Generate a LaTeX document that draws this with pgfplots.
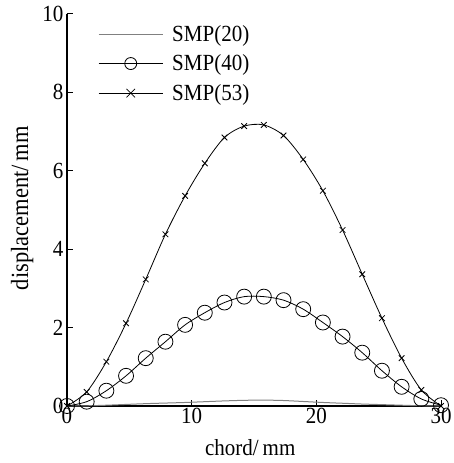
\documentclass[border=0pt]{standalone}
\usepackage{fontspec}
\setmainfont{Liberation Serif}
\usepackage{pgfplots}
\pgfplotsset{compat=1.18}
\newcommand{\vs}[1]{\scalebox{1}[1.1]{#1}}
\begin{document}
\begin{tikzpicture}
\useasboundingbox (-67pt,-57pt) rectangle (386pt,406pt);
\begin{axis}[
  scale only axis, width=374pt, height=392pt,
  xmin=0, xmax=30, ymin=0, ymax=10,
  axis x line*=bottom, axis y line*=left,
  axis line style={line width=1.6pt},
  xtick={0,10,20,30}, ytick={0,2,4,6,8,10},
  tick align=inside, major tick length=6pt,
  tick style={black, line width=1pt},
  /pgf/number format/assume math mode=true,
  font=\fontsize{21}{25}\selectfont,
  ticklabel style={font=\fontsize{21}{25}\selectfont},
  xticklabel={\vs{\pgfmathprintnumber{\tick}}},
  yticklabel={\vs{\pgfmathprintnumber{\tick}}},
  xticklabel style={yshift=1pt},
  xlabel={\vs{chord/\hspace{4pt}mm}}, ylabel={\fontsize{22.5}{26}\selectfont\vs{displacement/\hspace{4pt}mm}},
  xlabel style={at={(axis description cs:0.49,-0.107)}, anchor=center},
  ylabel style={at={(axis description cs:-0.12,0.505)}, anchor=center},
  legend style={draw=none, fill=none, at={(axis description cs:0.075,0.982)}, anchor=north west,
    font=\fontsize{21}{25}\selectfont, row sep=8pt, legend cell align=left,
    /tikz/every odd column/.style={column sep=7pt}},
  legend image code/.code={\draw[#1,mark=none] (0pt,0pt) -- (64pt,0pt);
    \draw[#1,only marks,mark size=6pt] plot coordinates {(32pt,0pt)};},
  clip=false,
]
\addplot[gray, line width=1pt, smooth, no marks, mark size=0pt] coordinates {
(0,0) (1.579,0.005) (3.158,0.02) (4.737,0.04) (6.316,0.06) (7.895,0.075) (9.474,0.09) (11.053,0.11) (12.632,0.13) (14.211,0.145)
(15.789,0.15) (17.368,0.14) (18.947,0.115) (20.526,0.09) (22.105,0.07) (23.684,0.05) (25.263,0.035) (26.842,0.02) (28.421,0.005) (30,0)};
\addlegendentry{\vs{SMP(20)}}
\addplot[black, line width=0.8pt, smooth, mark=o, mark size=7.5pt, mark options={line width=0.8pt}] coordinates {
(0,0) (1.579,0.11) (3.158,0.39) (4.737,0.77) (6.316,1.22) (7.895,1.64) (9.474,2.07) (11.053,2.38) (12.632,2.64) (14.211,2.79)
(15.789,2.79) (17.368,2.70) (18.947,2.47) (20.526,2.13) (22.105,1.77) (23.684,1.36) (25.263,0.90) (26.842,0.49) (28.421,0.18) (30,0.02)};
\addlegendentry{\vs{SMP(40)}}
\addplot[black, line width=0.8pt, smooth, mark=x, mark size=4pt, mark options={line width=0.8pt}] coordinates {
(0,0) (1.579,0.36) (3.158,1.13) (4.737,2.11) (6.316,3.23) (7.895,4.38) (9.474,5.36) (11.053,6.19) (12.632,6.85) (14.211,7.14)
(15.789,7.17) (17.368,6.90) (18.947,6.29) (20.526,5.49) (22.105,4.49) (23.684,3.36) (25.263,2.24) (26.842,1.22) (28.421,0.41) (30,0)};
\addlegendentry{\vs{SMP(53)}}
\end{axis}
\end{tikzpicture}
\end{document}
